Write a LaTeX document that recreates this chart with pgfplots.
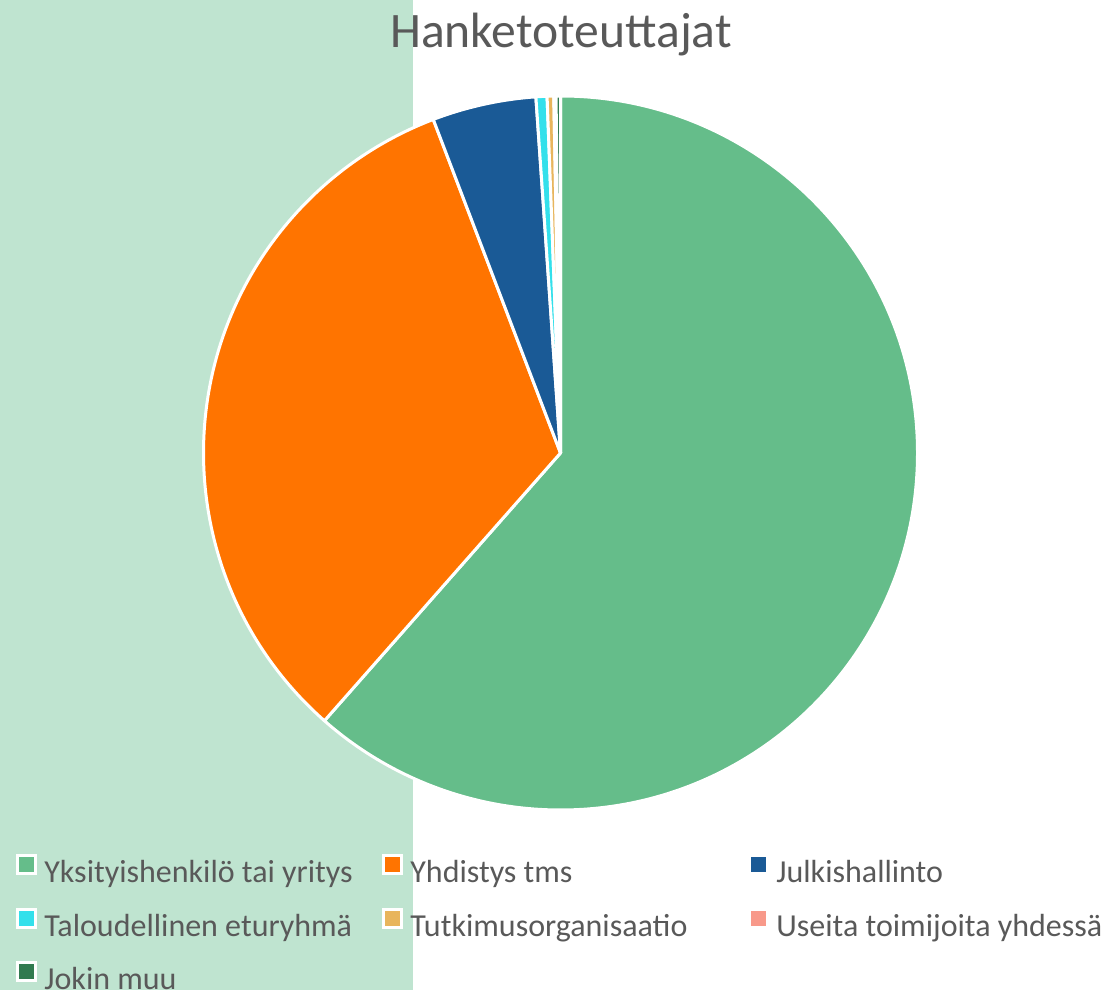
\documentclass[border=0pt]{standalone}
\usepackage{fontspec}
\setmainfont{Carlito}
\usepackage{pgfplots}
\usepackage{pgfplotstable}
\pgfplotsset{compat=1.18}
\definecolor{c0}{HTML}{65BD8A}
\definecolor{c1}{HTML}{FF7400}
\definecolor{c2}{HTML}{1A5A96}
\definecolor{c3}{HTML}{33E0EB}
\definecolor{c4}{HTML}{E8B55C}
\definecolor{c5}{HTML}{F8998A}
\definecolor{c6}{HTML}{317A4F}
\definecolor{bgc}{HTML}{BFE4D0}
\definecolor{txt}{HTML}{595959}
\begin{document}
\begin{tikzpicture}
\pgfplotstableread[col sep=comma]{
name,value
Yksityishenkilö tai yritys,61.5
Yhdistys tms,32.7
Julkishallinto,4.7
Taloudellinen eturyhmä,0.5
Tutkimusorganisaatio,0.3
Useita toimijoita yhdessä,0.1
Jokin muu,0.2
}\piedata
\xdef\cumangle{90}
\pgfplotsforeachungrouped \i in {0,...,6}{%
  \pgfplotstablegetelem{\i}{value}\of\piedata
  \pgfmathsetmacro\tmpend{\cumangle-3.6*\pgfplotsretval}%
  \expandafter\xdef\csname sa\i\endcsname{\cumangle}%
  \expandafter\xdef\csname ea\i\endcsname{\tmpend}%
  \xdef\cumangle{\tmpend}%
}
\useasboundingbox (0,0) rectangle (556pt,495pt);
\begin{axis}[
  scale only axis, width=556pt, height=495pt,
  xmin=0, xmax=1112, ymin=0, ymax=990,
  hide axis, clip=false,
  legend image code/.code={\draw[#1, draw=white, line width=1.5pt] (0pt,0pt) rectangle (9pt,9pt);},
  legend columns=3,
  legend style={at={(16/1112,136/990)}, anchor=north west, draw=none, fill=none,
    inner sep=0pt, font=\fontsize{16}{19}\selectfont, text=txt,
    nodes={inner sep=0pt, text height=12pt, text depth=3pt},
    row sep=9.5pt,
    /tikz/every odd column/.append style={column sep=3.5pt},
    /tikz/every even column/.append style={column sep=0pt}},
  legend cell align=left,
]
\fill[bgc] (axis cs:0,0) rectangle (axis cs:413,990);
\pgfplotsinvokeforeach{0,...,6}{
  \fill[fill=c#1, draw=white, line width=1.5pt, line join=round]
    (axis cs:560.5,537) -- ++(\csname sa#1\endcsname:178.5pt)
    arc[start angle=\csname sa#1\endcsname, end angle=\csname ea#1\endcsname, radius=178.5pt] -- cycle;
}
\node[anchor=base, text=txt, font=\fontsize{24.8}{30}\selectfont] at (axis cs:561,942) {Hanketoteuttajat};
\addlegendimage{fill=c0}\addlegendentry{\makebox[169pt][l]{Yksityishenkilö tai yritys}}
\addlegendimage{fill=c1}\addlegendentry{\makebox[169pt][l]{Yhdistys tms}}
\addlegendimage{fill=c2}\addlegendentry{\makebox[169pt][l]{Julkishallinto}}
\addlegendimage{fill=c3}\addlegendentry{\makebox[169pt][l]{Taloudellinen eturyhmä}}
\addlegendimage{fill=c4}\addlegendentry{\makebox[169pt][l]{Tutkimusorganisaatio}}
\addlegendimage{fill=c5}\addlegendentry{\makebox[169pt][l]{Useita toimijoita yhdessä}}
\addlegendimage{fill=c6}\addlegendentry{\makebox[169pt][l]{Jokin muu}}
\end{axis}
\end{tikzpicture}
\end{document}
